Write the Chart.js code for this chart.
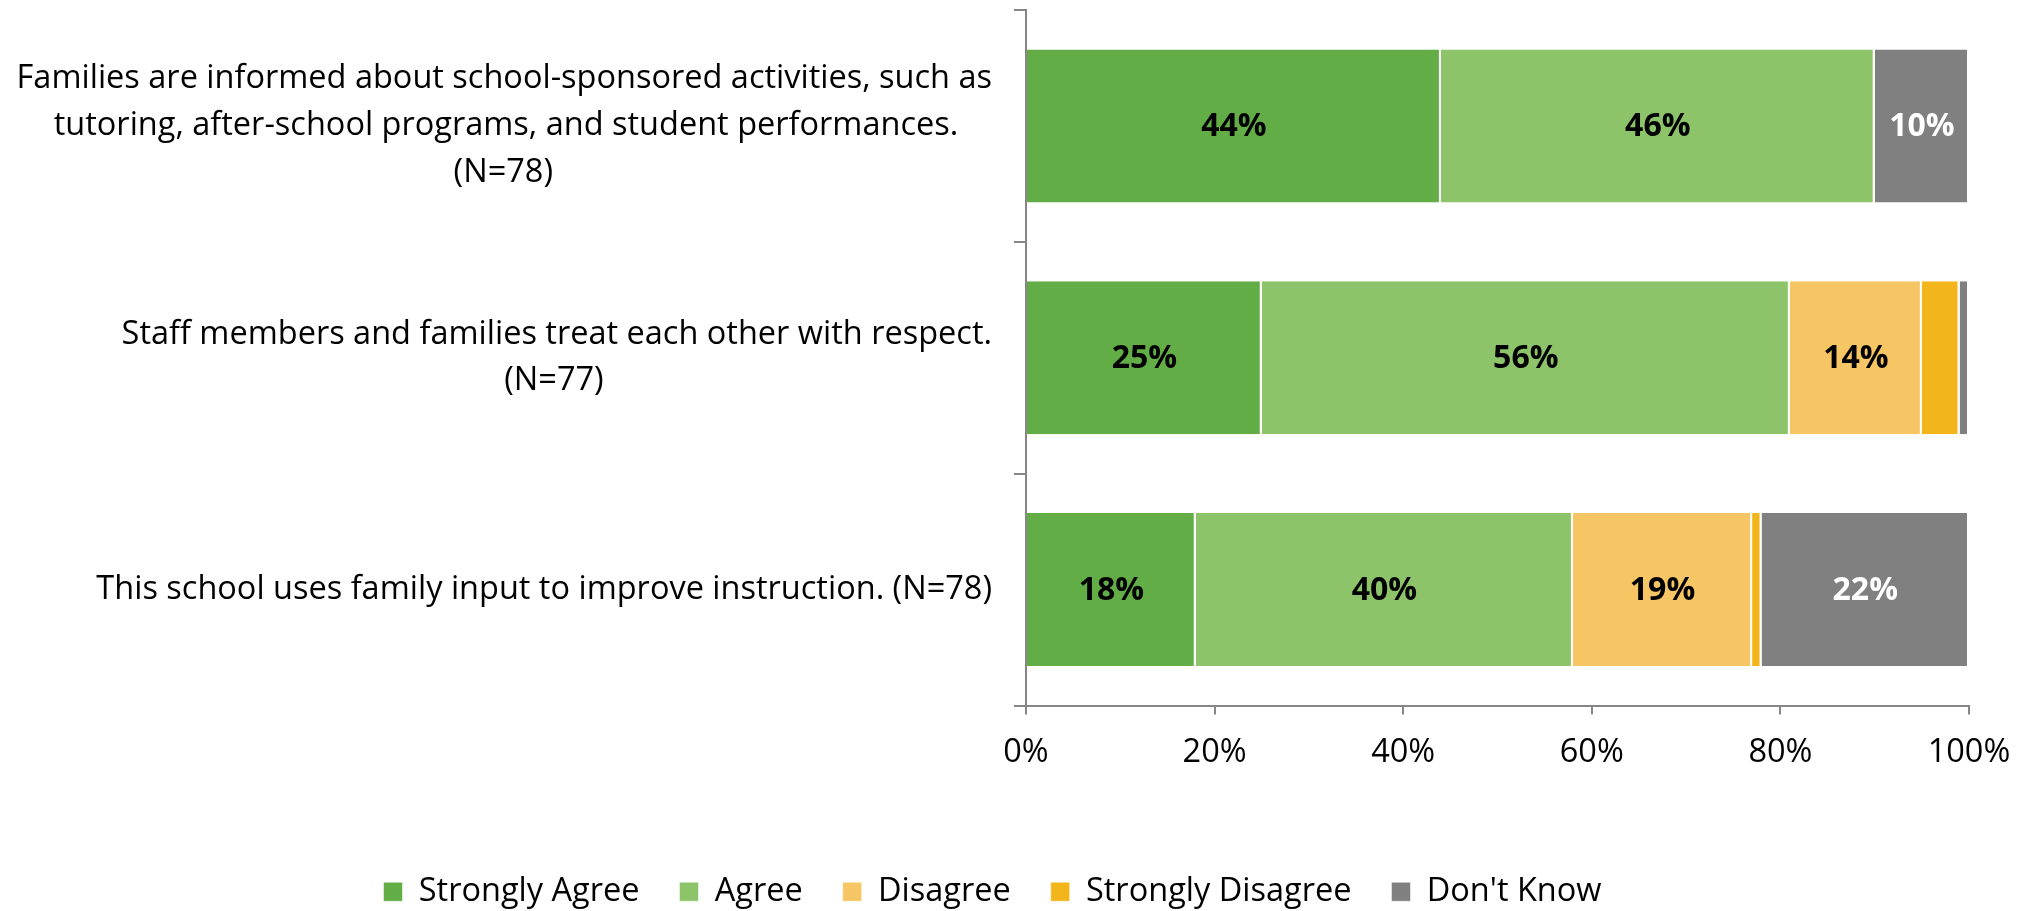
<!DOCTYPE html>
<html>
<head>
<meta charset="utf-8">
<script src="https://cdn.jsdelivr.net/npm/chart.js@4"></script>
<style>
  html, body { margin: 0; padding: 0; background: #fff; overflow: hidden; }
  #wrap { width: 2028px; height: 911px; }
</style>
</head>
<body>
<div id="wrap"><canvas id="surveyChart" width="2028" height="911"></canvas></div>
<script>
const categories = [
    ['Families are informed about school-sponsored activities, such as', 'tutoring, after-school programs, and student performances.', '(N=78)'],
    ['Staff members and families treat each other with respect.', '(N=77)'],
    ['This school uses family input to improve instruction. (N=78)']
];
const seriesNames = ['Strongly Agree', 'Agree', 'Disagree', 'Strongly Disagree', "Don't Know"];
const stronglyAgree = [44, 25, 18];
const agree = [46, 56, 40];
const disagree = [0, 14, 19];
const stronglyDisagree = [0, 4, 1];
const dontKnow = [10, 1, 22];
const xTicks = [0, 20, 40, 60, 80, 100];

const colors = ['#62ad46', '#8dc46a', '#f6c664', '#f2b51c', '#808080'];
const labelColors = ['#000', '#000', '#000', '#000', '#fff'];
const FONT = "'Open Sans', sans-serif";
const FS = 32.5;

// centre each line of a label inside its own widest line (labels are right-aligned)
const mctx = document.createElement('canvas').getContext('2d');
mctx.font = FS + 'px ' + FONT;
function centerLines(lines) {
    const w = lines.map(l => mctx.measureText(l).width);
    const widest = Math.max(...w);
    const sp = mctx.measureText(' ').width;
    return lines.map((l, i) => l + ' '.repeat(Math.round((widest - w[i]) / 2 / sp)));
}

// percentage labels inside segments
const barLabels = {
    id: 'barLabels',
    afterDatasetsDraw(chart) {
        const ctx = chart.ctx;
        ctx.save();
        ctx.font = 'bold 32px ' + FONT;
        ctx.textAlign = 'center';
        ctx.textBaseline = 'middle';
        chart.data.datasets.forEach((ds, di) => {
            const meta = chart.getDatasetMeta(di);
            meta.data.forEach((bar, i) => {
                const v = ds.data[i];
                if (v < 5) return;
                const p = bar.getProps(['x', 'y', 'base'], true);
                ctx.fillStyle = labelColors[di];
                ctx.fillText(v + '%', (p.x + p.base) / 2, p.y + 1);
            });
        });
        ctx.restore();
    }
};

const seriesData = [stronglyAgree, agree, disagree, stronglyDisagree, dontKnow];

const ctx = document.getElementById('surveyChart').getContext('2d');
let chart = new Chart(ctx, {
    type: 'bar',
    data: {
        labels: categories.map(centerLines),
        datasets: seriesNames.map((name, i) => ({
            label: name,
            data: seriesData[i],
            backgroundColor: colors[i],
            borderColor: '#ffffff',
            borderWidth: { top: 0, bottom: 0, left: 0, right: 2 },
            borderSkipped: false,
            barPercentage: 0.66,
            categoryPercentage: 1
        }))
    },
    options: {
        indexAxis: 'y',
        responsive: false,
        animation: false,
        layout: { padding: { top: 10, left: 16, right: 59, bottom: -7 } },
        scales: {
            x: {
                stacked: true,
                min: 0,
                max: 100,
                afterBuildTicks: (scale) => { scale.ticks = xTicks.map(v => ({ value: v })); },
                ticks: {
                    callback: (v) => v + '%',
                    color: '#000',
                    font: { family: FONT, size: FS },
                    padding: 19,
                    maxRotation: 0
                },
                grid: { drawOnChartArea: false, color: '#868686', tickLength: 9, lineWidth: 2 },
                border: { color: '#868686', width: 2 },
                afterFit: (scale) => { scale.height = 130; scale.paddingLeft = 0; scale.paddingRight = 0; }
            },
            y: {
                stacked: true,
                ticks: {
                    color: '#000',
                    font: { family: FONT, size: FS, lineHeight: 1.44 },
                    crossAlign: 'near',
                    padding: 22
                },
                grid: { drawOnChartArea: false, color: '#868686', tickLength: 12, lineWidth: 2, offset: true },
                border: { color: '#868686', width: 2 },
                afterFit: (scale) => { scale.width = 1010; scale.paddingTop = 0; scale.paddingBottom = 0; }
            }
        },
        plugins: {
            legend: {
                position: 'bottom',
                labels: {
                    color: '#000',
                    font: { family: FONT, size: FS },
                    boxWidth: 19,
                    boxHeight: 19,
                    padding: 40
                }
            },
            tooltip: { enabled: false }
        }
    },
    plugins: [barLabels]
});
</script>
</body>
</html>
